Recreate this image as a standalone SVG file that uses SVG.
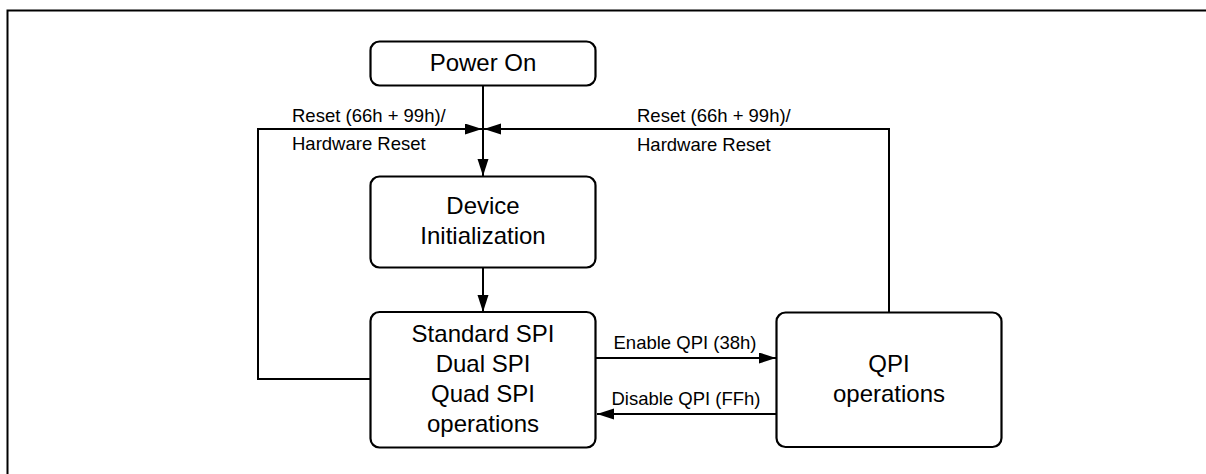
<svg xmlns="http://www.w3.org/2000/svg" width="1206" height="474" viewBox="0 0 1206 474">
  <style>
    .box { fill: #ffffff; stroke: #000000; stroke-width: 2.2; }
    .big { font-family: "Liberation Sans", Arial, sans-serif; font-size: 24px; fill: #000000; text-anchor: middle; }
    .lbl { font-family: "Liberation Sans", Arial, sans-serif; font-size: 18.5px; fill: #000000; }
    .conn { fill: none; stroke: #000000; stroke-width: 2; }
    .frame { fill: none; stroke: #000000; stroke-width: 2; }
  </style>
  <defs>
    <marker id="arrow" markerUnits="userSpaceOnUse" markerWidth="18" markerHeight="12" refX="17" refY="5.5" orient="auto">
      <path d="M0,0 L17,5.5 L0,11 z" fill="#000000"/>
    </marker>
  </defs>
  <rect x="0" y="0" width="1206" height="474" fill="#ffffff"/>
  <path class="frame" d="M7.5,480 V10.5 H1210"/>

  <g id="connectors">
    <path class="conn" d="M483,86 V176" marker-end="url(#arrow)"/>
    <path class="conn" d="M370,379 H258 V129 H482" marker-end="url(#arrow)"/>
    <path class="conn" d="M889,312 V129 H484" marker-end="url(#arrow)"/>
    <path class="conn" d="M483,268 V312" marker-end="url(#arrow)"/>
    <path class="conn" d="M596,358 H776" marker-end="url(#arrow)"/>
    <path class="conn" d="M776,414 H597" marker-end="url(#arrow)"/>
    <text class="lbl" x="292" y="122">Reset (66h + 99h)/</text>
    <text class="lbl" x="292" y="150">Hardware Reset</text>
    <text class="lbl" x="637" y="122">Reset (66h + 99h)/</text>
    <text class="lbl" x="637" y="151">Hardware Reset</text>
    <text class="lbl" x="685" y="349" text-anchor="middle">Enable QPI (38h)</text>
    <text class="lbl" x="686" y="405" text-anchor="middle">Disable QPI (FFh)</text>
  </g>

  <g id="power-on">
    <rect class="box" x="370.5" y="41.5" width="225" height="44" rx="9"/>
    <text class="big" x="483" y="71">Power On</text>
  </g>

  <g id="device-init">
    <rect class="box" x="370.5" y="176.5" width="225" height="91" rx="9"/>
    <text class="big" x="483" y="214">Device</text>
    <text class="big" x="483" y="244">Initialization</text>
  </g>

  <g id="spi-ops">
    <rect class="box" x="370.5" y="312" width="225" height="135.5" rx="9"/>
    <text class="big" x="483" y="342">Standard SPI</text>
    <text class="big" x="483" y="372">Dual SPI</text>
    <text class="big" x="483" y="402">Quad SPI</text>
    <text class="big" x="483" y="432">operations</text>
  </g>

  <g id="qpi-ops">
    <rect class="box" x="776.5" y="312.5" width="225" height="134.5" rx="9"/>
    <text class="big" x="889" y="372">QPI</text>
    <text class="big" x="889" y="402">operations</text>
  </g>
</svg>
